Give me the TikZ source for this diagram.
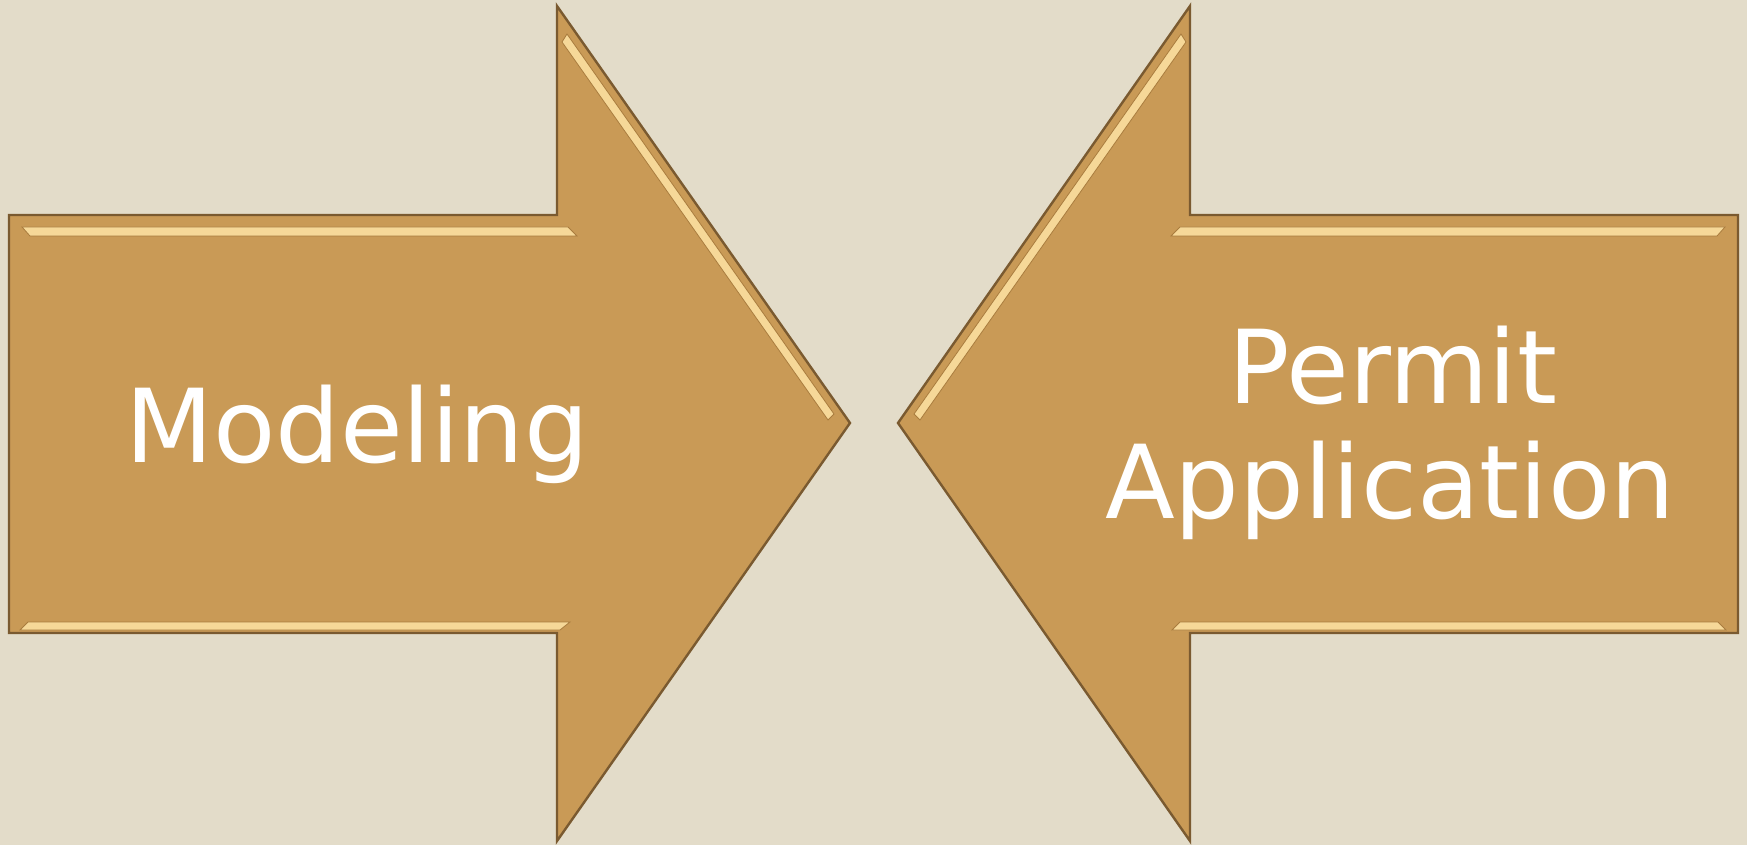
\documentclass[tikz,border=0pt]{standalone}
\usepackage{fontspec}
\setmainfont{DejaVu Sans}
\usetikzlibrary{calc}
\definecolor{paper}{HTML}{E3DCC9}
\definecolor{tanfill}{HTML}{C99A56}
\definecolor{tanedge}{HTML}{7A5A30}
\definecolor{tanlight}{HTML}{F6D898}
\definecolor{tanshade}{HTML}{A97C3E}
\tikzset{
  arrowbody/.style={fill=tanfill, draw=tanedge, line width=1.2pt, line join=miter},
  bevel/.style={fill=tanlight, draw=tanshade, line width=0.4pt},
  word/.style={text=white, font=\fontsize{51}{58}\selectfont, inner sep=0pt, anchor=base}
}

\begin{document}
\begin{tikzpicture}[x=0.5pt,y=-0.5pt]
\fill[paper] (0,0) rectangle (1747,845);
\useasboundingbox (0,0) rectangle (1747,845);

% left arrow
\coordinate (lbl) at (9,633);
\coordinate (ltl) at (9,215);
\coordinate (lst) at (557,215);
\coordinate (lht) at (557,6);
\coordinate (ltip) at (850,423);
\coordinate (lhb) at (557,841);
\coordinate (lsb) at (557,633);
\draw[arrowbody] (lbl) -- (ltl) -- (lst) -- (lht) -- (ltip) -- (lhb) -- (lsb) -- cycle;
\fill[bevel] (22,227) -- (568,227) -- (577,236) -- (30,236) -- cycle;
\fill[bevel] (20,630) -- (560,630) -- (570,622) -- (28,622) -- cycle;
\fill[bevel] (567,34) -- (834,414) -- (828,420) -- (562,42) -- cycle;

% right arrow
\coordinate (rbr) at (1738,633);
\coordinate (rtr) at (1738,215);
\coordinate (rst) at (1190,215);
\coordinate (rht) at (1190,6);
\coordinate (rtip) at (898,423);
\coordinate (rhb) at (1190,841);
\coordinate (rsb) at (1190,633);
\draw[arrowbody] (rbr) -- (rtr) -- (rst) -- (rht) -- (rtip) -- (rhb) -- (rsb) -- cycle;
\fill[bevel] (1180,227) -- (1725,227) -- (1717,236) -- (1171,236) -- cycle;
\fill[bevel] (1172,630) -- (1726,630) -- (1718,622) -- (1180,622) -- cycle;
\fill[bevel] (1181,34) -- (914,414) -- (920,420) -- (1186,42) -- cycle;

% labels
\node[word] (model) at (357,462) {Modeling};
\node[word] (permit) at (1393,403) {Permit};
\node[word] (appl) at (1390,518) {Application};
\end{tikzpicture}
\end{document}
